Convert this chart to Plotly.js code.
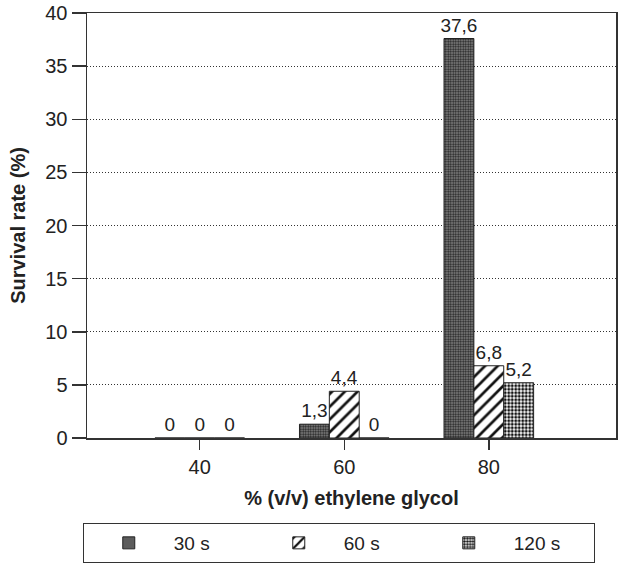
<!DOCTYPE html>
<html>
<head>
<meta charset="utf-8">
<script src="https://cdn.plot.ly/plotly-3.0.1.min.js"></script>
<style>html,body{margin:0;padding:0;background:#fff;}#chart{width:619px;height:566px;}</style>
</head>
<body>
<div id="chart"></div>
<script>
const categories = ['40', '60', '80'];
const seriesNames = ['30 s', '60 s', '120 s'];
const values30 = [0, 1.3, 37.6];
const values60 = [0, 4.4, 6.8];
const values120 = [0, 0, 5.2];
const yTicks = [0, 5, 10, 15, 20, 25, 30, 35, 40];

const fmt = v => String(v).replace('.', ',');
const FONT = 'Liberation Sans, Arial, Helvetica, sans-serif';
const TXT = '#222';

const patterns = [
  {shape: '.', bgcolor: '#8a8a8a', fgcolor: '#222', size: 2.5, solidity: 0.5},
  {shape: '/', bgcolor: '#ffffff', fgcolor: '#111', size: 9, solidity: 0.3},
  {shape: '.', bgcolor: '#ffffff', fgcolor: '#111', size: 3.5, solidity: 0.55}
];
const allValues = [values30, values60, values120];

const traces = allValues.map((vals, i) => ({
  type: 'bar',
  name: seriesNames[i],
  x: categories,
  y: vals,
  text: vals.map(fmt),
  textposition: 'outside',
  constraintext: 'none',
  cliponaxis: false,
  textfont: {family: FONT, size: 19, color: TXT},
  marker: {
    color: patterns[i].bgcolor,
    pattern: patterns[i],
    line: {color: '#222', width: 1}
  }
}));

const layout = {
  width: 619, height: 566,
  margin: {l: 87, r: 3, t: 13, b: 128, autoexpand: false},
  paper_bgcolor: '#fff', plot_bgcolor: '#fff',
  barmode: 'group',
  bargap: 0.38,
  bargroupgap: 0,
  font: {family: FONT, color: TXT},
  showlegend: true,
  legend: {
    orientation: 'h',
    x: -0.008, xanchor: 'left',
    y: -0.2, yanchor: 'top',
    bordercolor: '#333', borderwidth: 1,
    itemwidth: 80,
    entrywidth: 75,
    font: {family: FONT, size: 19, color: TXT},
    traceorder: 'normal'
  },
  xaxis: {
    type: 'category',
    range: [-0.78, 2.88],
    showline: true, linecolor: '#333', linewidth: 1.5, mirror: true,
    ticks: 'outside', ticklen: 10, tickcolor: '#333', tickwidth: 1.5,
    tickfont: {family: FONT, size: 20, color: TXT},
    showgrid: false,
    title: {text: '<b>% (v/v) ethylene glycol</b>', font: {family: FONT, size: 20, color: TXT}, standoff: 14}
  },
  yaxis: {
    range: [0, 40],
    tickvals: yTicks,
    ticktext: yTicks.map(String),
    showline: true, linecolor: '#333', linewidth: 1.5, mirror: true,
    ticks: 'outside', ticklen: 14, tickcolor: '#333', tickwidth: 1.5,
    tickfont: {family: FONT, size: 20, color: TXT},
    showgrid: true, gridcolor: '#333', griddash: '1px,2px', gridwidth: 1,
    zeroline: false,
    title: {text: '<b>Survival rate (%)</b>', font: {family: FONT, size: 20, color: TXT}, standoff: 14}
  }
};

Plotly.newPlot('chart', traces, layout, {displayModeBar: false, staticPlot: true});
</script>
</body>
</html>
